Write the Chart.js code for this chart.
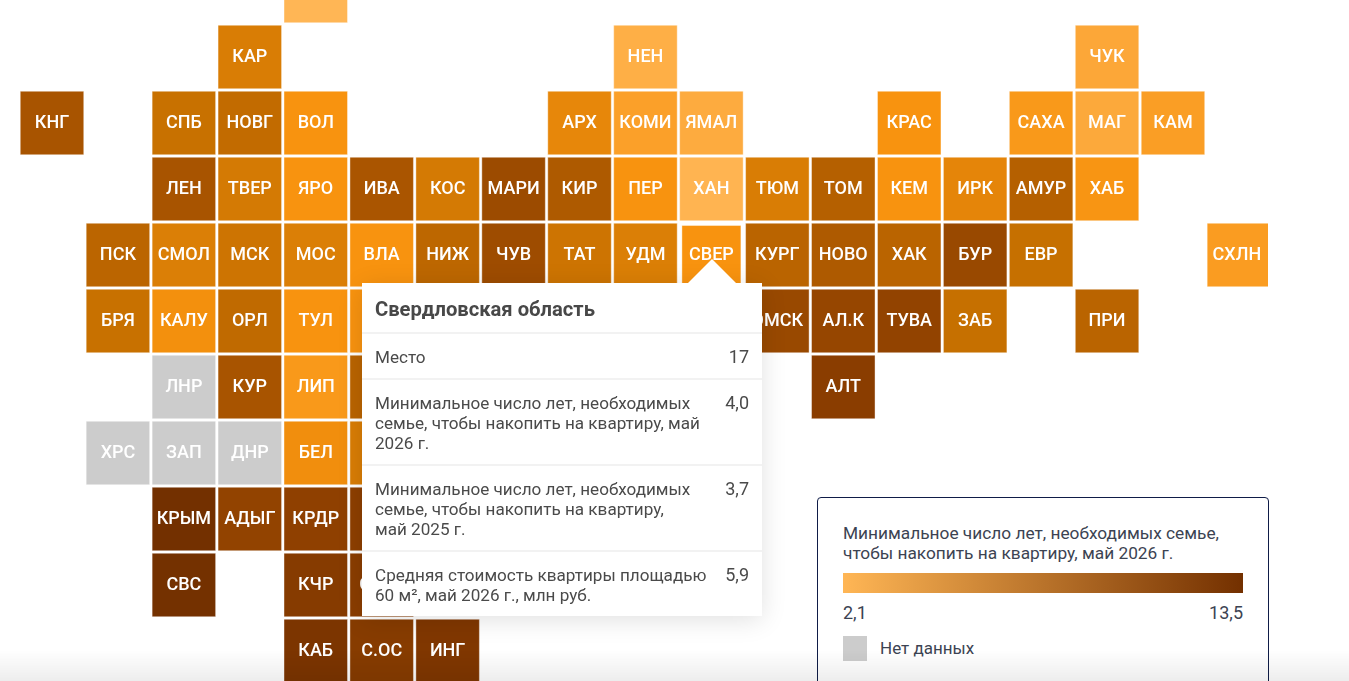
<!DOCTYPE html>
<html lang="ru">
<head>
<meta charset="utf-8">
<title>Минимальное число лет, необходимых семье, чтобы накопить на квартиру</title>
<script src="https://cdn.jsdelivr.net/npm/chart.js@4"></script>
<style>
    html, body { margin: 0; padding: 0; width: 1349px; height: 681px; overflow: hidden; background: #fff; font-family: Roboto, sans-serif; }
    #map { position: absolute; left: 0; top: 0; }
    .tip { position: absolute; left: 362px; top: 283px; width: 400px; background: #fff; color: #4a4a4a; font-size: 17.1px; line-height: 20px; box-shadow: 0 4px 24px rgba(0, 0, 0, 0.12); }
    .tip-title { font-size: 20.2px; font-weight: 700; padding: 16px 13px 13px; line-height: 20px; color: #484848; }
    .tip-row { display: flex; justify-content: space-between; padding: 13px 13px 11px; border-top: 2px solid #f2f2f2; }
    .tip-row .name { width: 340px; white-space: nowrap; }
    .tip-row .num { font-size: 18px; }
    .tip-arrow { position: absolute; left: 687px; top: 259px; width: 50px; height: 25px; background: #fff; clip-path: polygon(50% 0, 100% 100%, 0 100%); }
    .legend { position: absolute; left: 817px; top: 497px; width: 450px; height: 200px; border: 1px solid #0f1c47; border-radius: 4px; background: #fff; color: #3c4352; font-size: 17px; line-height: 20px; }
    .legend-title { position: absolute; left: 25px; top: 25px; white-space: nowrap; font-size: 17.3px; }
    .legend-bar { position: absolute; left: 25px; top: 75px; width: 400px; height: 20px; }
    .legend-min { position: absolute; left: 25px; top: 105px; font-size: 18px; }
    .legend-max { position: absolute; right: 25px; top: 105px; font-size: 18px; }
    .legend-empty { position: absolute; left: 25px; top: 138px; width: 24px; height: 25px; background: #cccccc; }
    .legend-empty-label { position: absolute; left: 62px; top: 140px; }
    .fade { position: absolute; left: 0; top: 650px; width: 1349px; height: 31px; background: linear-gradient(to bottom, rgba(0, 0, 0, 0), rgba(0, 0, 0, 0.07)); pointer-events: none; }
</style>
</head>
<body>
<canvas id="map" width="1349" height="681"></canvas>
<div class="tip" id="tip"></div>
<div class="tip-arrow"></div>
<div class="legend" id="legend"></div>
<div class="fade"></div>
<script>
// regions on the tile grid, null means no data
const regionCodes = [
    "МУР",
    "КАР", "НЕН", "ЧУК",
    "КНГ", "СПБ", "НОВГ", "ВОЛ", "АРХ", "КОМИ", "ЯМАЛ", "КРАС", "САХА", "МАГ", "КАМ",
    "ЛЕН", "ТВЕР", "ЯРО", "ИВА", "КОС", "МАРИ", "КИР", "ПЕР", "ХАН", "ТЮМ", "ТОМ", "КЕМ", "ИРК", "АМУР", "ХАБ",
    "ПСК", "СМОЛ", "МСК", "МОС", "ВЛА", "НИЖ", "ЧУВ", "ТАТ", "УДМ", "СВЕР", "КУРГ", "НОВО", "ХАК", "БУР", "ЕВР", "СХЛН",
    "БРЯ", "КАЛУ", "ОРЛ", "ТУЛ", "РЯЗ", "ОМСК", "АЛ.К", "ТУВА", "ЗАБ", "ПРИ",
    "ЛНР", "КУР", "ЛИП", "ТАМ", "АЛТ",
    "ХРС", "ЗАП", "ДНР", "БЕЛ", "ВОР",
    "КРЫМ", "АДЫГ", "КРДР", "РОС",
    "СВС", "КЧР", "СТАВ",
    "КАБ", "С.ОС", "ИНГ",
];
const regionCols = [
    4,
    3, 9, 16,
    0, 2, 3, 4, 8, 9, 10, 13, 15, 16, 17,
    2, 3, 4, 5, 6, 7, 8, 9, 10, 11, 12, 13, 14, 15, 16,
    1, 2, 3, 4, 5, 6, 7, 8, 9, 10, 11, 12, 13, 14, 15, 18,
    1, 2, 3, 4, 5, 11, 12, 13, 14, 16,
    2, 3, 4, 5, 12,
    1, 2, 3, 4, 5,
    2, 3, 4, 5,
    2, 4, 5,
    4, 5, 6,
];
const regionRows = [
    0,
    1, 1, 1,
    2, 2, 2, 2, 2, 2, 2, 2, 2, 2, 2,
    3, 3, 3, 3, 3, 3, 3, 3, 3, 3, 3, 3, 3, 3, 3,
    4, 4, 4, 4, 4, 4, 4, 4, 4, 4, 4, 4, 4, 4, 4, 4,
    5, 5, 5, 5, 5, 5, 5, 5, 5, 5,
    6, 6, 6, 6, 6,
    7, 7, 7, 7, 7,
    8, 8, 8, 8,
    9, 9, 9,
    10, 10, 10,
];
const regionYears = [
    2.1,
    5.3, 2.5, 2.9,
    8.0, 6.0, 6.4, 4.0, 4.7, 3.3, 2.7, 4.0, 3.7, 2.8, 3.4,
    8.0, 5.5, 4.0, 7.9, 5.5, 8.8, 7.6, 4.0, 2.2, 5.3, 7.2, 4.0, 4.8, 7.2, 3.9,
    6.8, 5.2, 5.8, 5.2, 4.0, 6.7, 8.7, 5.8, 5.2, 4.0, 6.9, 7.6, 6.9, 9.0, 6.1, 3.5,
    6.0, 4.2, 6.5, 4.0, 4.0, 9.0, 9.2, 9.5, 6.1, 6.9,
    null, 8.0, 3.7, 6.9, 10.0,
    null, null, null, 4.3, 5.3,
    13.5, 9.5, 9.7, 9.8,
    13.3, 10.6, 10.0,
    12.2, 10.4, 11.5,
];

const scaleValues = [2.1, 4.0, 6.0, 8.0, 10.0, 13.5];
const scaleColors = ["#ffb655", "#f8930f", "#c87100", "#a85400", "#8a3d00", "#733000"];
const noDataColor = "#cccccc";

const activeRegion = "СВЕР";
const tipTitle = "Свердловская область";
const tipLabels = [
    "Место",
    "Минимальное число лет, необходимых<br>семье, чтобы накопить на квартиру, май<br>2026 г.",
    "Минимальное число лет, необходимых<br>семье, чтобы накопить на квартиру,<br>май 2025 г.",
    "Средняя стоимость квартиры площадью<br>60 м², май 2026 г., млн руб.",
];
const tipValues = ["17", "4,0", "3,7", "5,9"];

const legendTitle = "Минимальное число лет, необходимых семье,<br>чтобы накопить на квартиру, май 2026 г.";
const legendMin = 2.1;
const legendMax = 13.5;
const legendColors = ["#ffb655", "#733000"];
const legendEmptyLabel = "Нет данных";

const CELL_X = 65.94;
const CELL_Y = 66;
const TILE_RADIUS = 31.75 / Math.SQRT1_2;
const ACTIVE_RADIUS = 29.5 / Math.SQRT1_2;

function hexToRgb(hex) {
    return [1, 3, 5].map((i) => parseInt(hex.slice(i, i + 2), 16));
}

function colorFor(value) {
    if (value === null) return noDataColor;
    let i = 0;
    while (i < scaleValues.length - 2 && value > scaleValues[i + 1]) i++;
    const t = (value - scaleValues[i]) / (scaleValues[i + 1] - scaleValues[i]);
    const a = hexToRgb(scaleColors[i]);
    const b = hexToRgb(scaleColors[i + 1]);
    const mixed = a.map((c, k) => Math.round(c + (b[k] - c) * t));
    return `rgb(${mixed.join(",")})`;
}

function formatNumber(value) {
    return value.toFixed(1).replace(".", ",");
}

// short region codes in the middle of each tile, the last column is cut by the chart area
const tileLabels = {
    id: "tileLabels",
    afterDatasetsDraw(chart) {
        const { ctx, chartArea, scales } = chart;
        ctx.save();
        ctx.font = "500 18px Roboto";
        ctx.fillStyle = "#ffffff";
        ctx.textAlign = "center";
        ctx.textBaseline = "middle";
        regionCodes.forEach((code, i) => {
            const x = scales.x.getPixelForValue(regionCols[i]);
            const y = scales.y.getPixelForValue(regionRows[i]);
            const left = Math.max(x - CELL_X / 2, chartArea.left);
            const right = Math.min(x + CELL_X / 2, chartArea.right);
            ctx.fillText(code, (left + right) / 2, y);
        });
        ctx.restore();
    },
};

new Chart(document.getElementById("map"), {
    type: "scatter",
    data: {
        datasets: [
            {
                data: regionCols.map((col, i) => ({ x: col, y: regionRows[i] })),
                clip: 0,
                pointStyle: "rect",
                pointRadius: (c) =>
                    regionCodes[c.dataIndex] === activeRegion ? ACTIVE_RADIUS : TILE_RADIUS,
                pointBackgroundColor: (c) => colorFor(regionYears[c.dataIndex]),
                pointBorderColor: "rgba(255, 255, 255, 0.4)",
                pointBorderWidth: 1,
            },
        ],
    },
    options: {
        responsive: false,
        animation: false,
        events: [],
        layout: { autoPadding: false, padding: { left: 0, top: 0, right: 81, bottom: 0 } },
        plugins: { legend: { display: false }, tooltip: { enabled: false } },
        scales: {
            x: { type: "linear", display: false, min: -52 / CELL_X, max: (1268 - 52) / CELL_X },
            y: { type: "linear", display: false, reverse: true, min: 9 / CELL_Y, max: 690 / CELL_Y },
        },
    },
    plugins: [tileLabels],
});

// hover card of the selected region
document.getElementById("tip").innerHTML =
    `<div class="tip-title">${tipTitle}</div>` +
    tipLabels
        .map(
            (label, i) =>
                `<div class="tip-row"><div class="name">${label}</div><div class="num">${tipValues[i]}</div></div>`,
        )
        .join("");

document.getElementById("legend").innerHTML = `
    <div class="legend-title">${legendTitle}</div>
    <div class="legend-bar" style="background: linear-gradient(to right, ${legendColors.join(", ")})"></div>
    <div class="legend-min">${formatNumber(legendMin)}</div>
    <div class="legend-max">${formatNumber(legendMax)}</div>
    <div class="legend-empty"></div>
    <div class="legend-empty-label">${legendEmptyLabel}</div>`;
</script>
</body>
</html>
